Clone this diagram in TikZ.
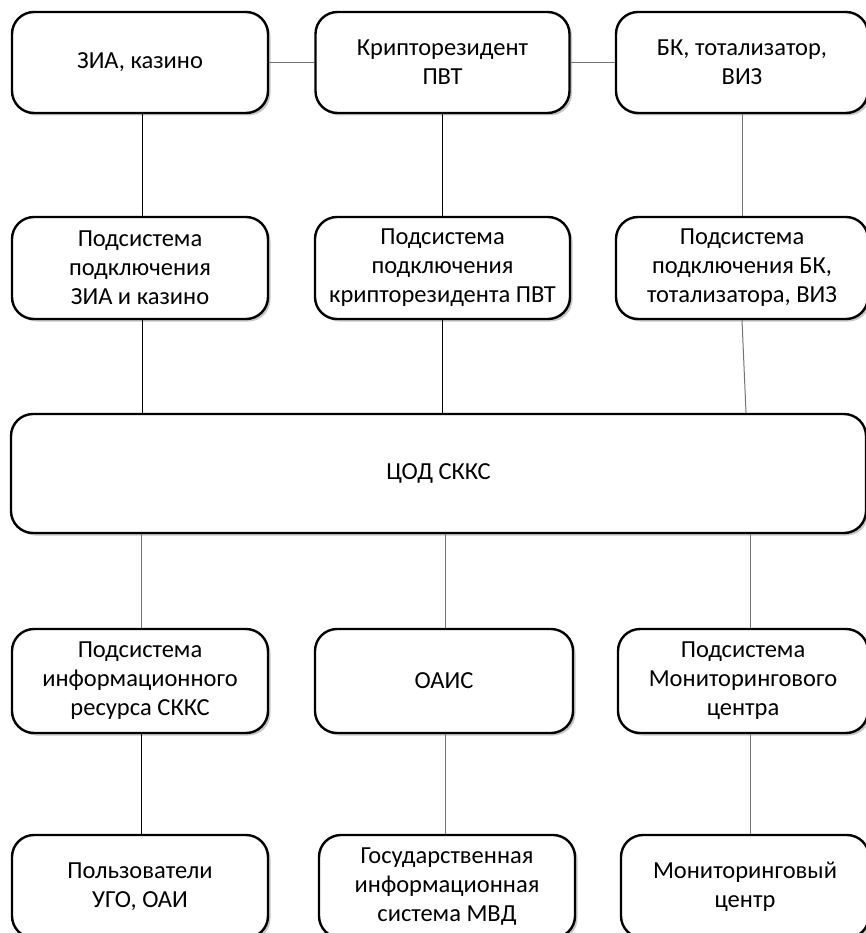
\documentclass[tikz,border=0pt]{standalone}
\usepackage{fontspec}
\setmainfont{Carlito}
\usetikzlibrary{shadows}
\tikzset{
  x=1pt, y=-1pt,
  box/.style={draw=black, line width=2.4pt, rounded corners=22pt, fill=white,
    align=center, inner sep=0pt, font=\fontsize{24.5}{29}\selectfont,
    drop shadow={shadow xshift=2.5pt, shadow yshift=-2.5pt, fill=black!22, opacity=1}},
  conn/.style={line width=1pt, draw=black},
  conng/.style={line width=1pt, draw=black!55},
}
\begin{document}
\begin{tikzpicture}
\useasboundingbox (0,0) rectangle (865,933);
% row 1
\node[box, minimum width=256pt, minimum height=101pt] (zia) at (140,62.5) {ЗИА, казино};
\node[box, minimum width=254pt, minimum height=101pt] (kr) at (442.5,62.5) {Крипторезидент\\ПВТ};
\node[box, minimum width=252pt, minimum height=101pt] (bk) at (742,62.5) {БК, тотализатор,\\ВИЗ};
% row 2
\node[box, minimum width=256pt, minimum height=102pt] (zia2) at (140,268) {Подсистема\\подключения\\ЗИА и казино};
\node[box, minimum width=255pt, minimum height=102pt] (kr2) at (442.5,268) {Подсистема\\подключения\\крипторезидента ПВТ};
\node[box, minimum width=252pt, minimum height=102pt] (bk2) at (742,268) {Подсистема\\подключения БК,\\тотализатора, ВИЗ};
% central
\node[box, minimum width=855pt, minimum height=119pt] (cod) at (438.5,473.5) {ЦОД СККС};
% row 3
\node[box, minimum width=256pt, minimum height=104pt] (ir) at (140,681) {Подсистема\\информационного\\ресурса СККС};
\node[box, minimum width=258pt, minimum height=104pt] (oais) at (444,681) {ОАИС};
\node[box, minimum width=250pt, minimum height=104pt] (mon) at (743,681) {Подсистема\\Мониторингового\\центра};
% row 4
\node[box, minimum width=256pt, minimum height=103pt] (users) at (140,886.5) {Пользователи\\УГО, ОАИ};
\node[box, minimum width=256pt, minimum height=103pt] (mvd) at (447,886.5) {Государственная\\информационная\\система МВД};
\node[box, minimum width=248pt, minimum height=103pt] (monc) at (745,886.5) {Мониторинговый\\центр};
% connectors
\draw[conng] (zia.east) -- (kr.west);
\draw[conng] (kr.east) -- (bk.west);
\draw[conn] ([xshift=2pt]zia.south) -- ([xshift=2pt]zia2.north);
\draw[conn] (kr.south) -- (kr2.north);
\draw[conng] (bk.south) -- (bk2.north);
\draw[conn] ([xshift=2pt]zia2.south) -- ([xshift=2pt]zia2.south |- cod.north);
\draw[conn] (kr2.south) -- (kr2.south |- cod.north);
\draw[conng] (bk2.south) -- ([xshift=4pt]bk2.south |- cod.north);
\draw[conng] ([xshift=1pt]ir.north) -- ([xshift=1pt]ir.north |- cod.south);
\draw[conng] ([xshift=1pt]oais.north) -- ([xshift=1pt]oais.north |- cod.south);
\draw[conng] ([xshift=7pt]mon.north) -- ([xshift=7pt]mon.north |- cod.south);
\draw[conn] ([xshift=1pt]ir.south) -- ([xshift=1pt]ir.south |- users.north);
\draw[conng] ([xshift=1pt]oais.south) -- ([xshift=1pt]oais.south |- mvd.north);
\draw[conng] ([xshift=7pt]mon.south) -- ([xshift=7pt]mon.south |- monc.north);
\end{tikzpicture}
\end{document}
